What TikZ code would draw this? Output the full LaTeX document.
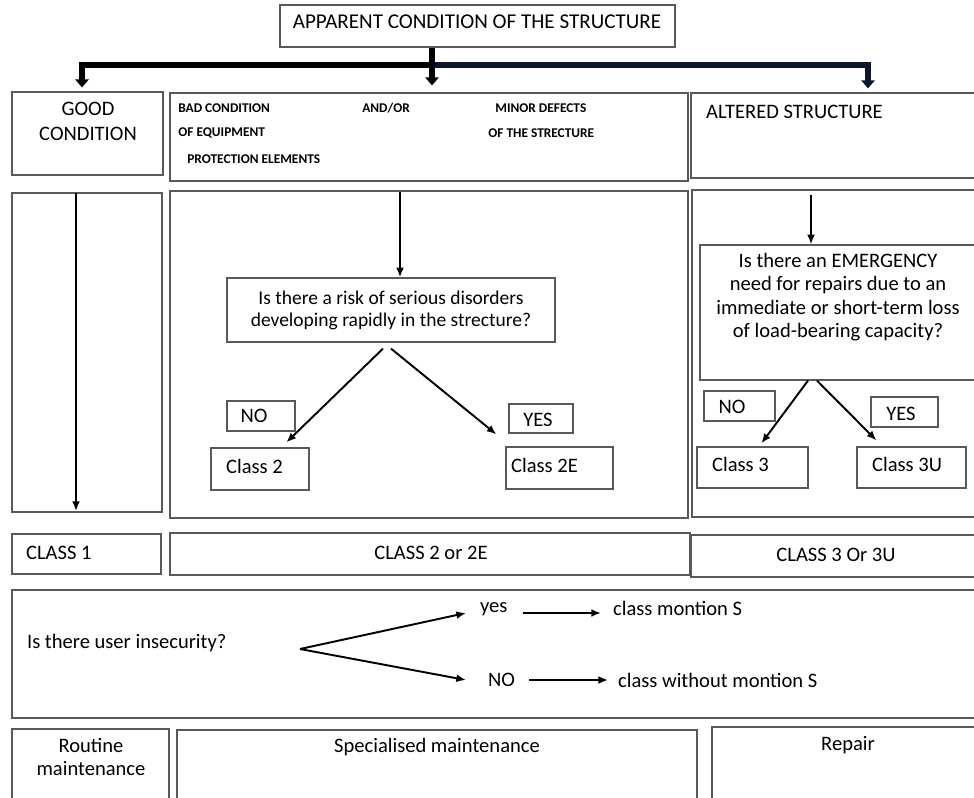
\documentclass[tikz,border=0pt]{standalone}
\usepackage{fontspec}
\setmainfont{Carlito}
\usetikzlibrary{calc,fit,arrows.meta}

\definecolor{navy}{RGB}{12,22,48}
\tikzset{
  box/.style={draw=black!65, line width=0.7pt, inner sep=0pt},
  txt/.style={inner sep=1pt, font=\fontsize{11.7}{14}\selectfont},
  tiny/.style={inner sep=0pt, anchor=west, font=\bfseries\fontsize{7.6}{9}\selectfont},
  arr/.style={-{Latex[length=5.5pt,width=4.5pt]}, line width=1.1pt},
  fat/.style={line width=3.6pt, -{Triangle[width=7.5pt,length=4.5pt]}},
}

\begin{document}
\begin{tikzpicture}[x=0.02cm,y=-0.02cm]
    \clip (0,0) rectangle (974,798);
    \fill[white] (0,0) rectangle (974,798);

    % top of the chart
    \node[box, fit={(280,5)(675,47)}] (top) {};
    \node[txt, font=\fontsize{12}{14}\selectfont] (toptxt) at (477,22) {APPARENT CONDITION OF THE STRUCTURE};

    \node[box, fit={(12,92)(163,175)}] (good) {};
    \node[txt, align=center, font=\fontsize{11.7}{14.2}\selectfont] (goodtxt) at (88,121) {GOOD\\CONDITION};

    \node[box, fit={(170,93)(688,181)}] (bad) {};
    \node[tiny] (bad1) at (178,108) {BAD CONDITION};
    \node[tiny] (bad2) at (362,108) {AND/OR};
    \node[tiny] (bad3) at (495,108) {MINOR DEFECTS};
    \node[tiny] (bad4) at (178,133) {OF EQUIPMENT};
    \node[tiny] (bad5) at (488,133) {OF THE STRECTURE};
    \node[tiny] (bad6) at (187,159) {PROTECTION ELEMENTS};

    \node[box, fit={(691,93)(990,178)}] (alt) {};
    \node[txt, anchor=west] (alttxt) at (704,112) {ALTERED STRUCTURE};

    % fat arrows
    \coordinate (hub) at (432,65);
    \coordinate (lft) at (82,65);
    \coordinate (rgt) at (868,65);
    \draw[fat, navy] (hub) -- (rgt) -- ($(alt.north -| rgt)+(0,-4)$);
    \draw[fat] (hub) -- (lft) -- ($(good.north -| lft)+(0,-4)$);
    \draw[fat] (top.south -| hub) -- ($(bad.north -| hub)+(0,-7)$);

    % columns
    \node[box, fit={(12,193)(162,512)}] (col1) {};
    \node[box, fit={(170,191)(688,518)}] (col2) {};
    \node[box, fit={(692,190)(990,517)}] (col3) {};

    \coordinate (c1a) at (76,193);
    \coordinate (c1b) at (76,511);
    \draw[arr] (c1a) -- (c1b);

    % middle column
    \node[box, fit={(227,278)(555,342)}] (q2) {};
    \node[txt, align=center, font=\fontsize{11.1}{12.6}\selectfont] (q2txt) at (q2.center)
        {Is there a risk of serious disorders\\developing rapidly in the strecture?};
    \coordinate (c2a) at (400,192);
    \draw[arr] (c2a) -- (q2.north -| c2a);

    \node[box, fit={(227,401)(295,431)}] (no2) {};
    \node[txt] (no2txt) at (254,416) {NO};
    \node[box, fit={(509,404)(573,433)}] (yes2) {};
    \node[txt] (yes2txt) at (538,420) {YES};
    \node[box, fit={(211,448)(309,490)}] (cl2) {};
    \node[txt, anchor=west] (cl2txt) at (224,466) {Class 2};
    \node[box, fit={(506,447)(613,489)}] (cl2e) {};
    \node[txt, anchor=west] (cl2etxt) at (509,465) {Class 2E};

    \draw[arr] ($(q2.south)+(-8,6)$) -- ($(cl2.north west)+(76,-5)$);
    \draw[arr] ($(q2.south)+(0,6)$) -- ($(cl2e.north west)+(-9,-12)$);

    % right column
    \node[box, fit={(700,245)(990,380)}] (q3) {};
    \node[txt, align=center, font=\fontsize{11.7}{13.4}\selectfont] (q3txt) at (838,297)
        {Is there an EMERGENCY\\need for repairs due to an\\immediate or short-term loss\\of load-bearing capacity?};
    \coordinate (c3a) at (811,195);
    \draw[arr] (c3a) -- (q3.north -| c3a);

    \node[box, fit={(704,391)(775,421)}] (no3) {};
    \node[txt] (no3txt) at (732,407) {NO};
    \node[box, fit={(871,397)(938,427)}] (yes3) {};
    \node[txt] (yes3txt) at (901,414) {YES};
    \node[box, fit={(697,447)(808,488)}] (cl3) {};
    \node[txt, anchor=west] (cl3txt) at (710,464) {Class 3};
    \node[box, fit={(857,447)(966,488)}] (cl3u) {};
    \node[txt, anchor=west] (cl3utxt) at (870,464) {Class 3U};

    \draw[arr] (q3.south -| 808,0) -- ($(cl3.north west)+(65,-3)$);
    \draw[arr] (q3.south -| 817,0) -- ($(cl3u.north west)+(20,-6)$);

    % classes
    \node[box, fit={(12,534)(161,574)}] (k1) {};
    \node[txt, anchor=west] (k1txt) at (24,553) {CLASS 1};
    \node[box, fit={(170,533)(690,575)}] (k2) {};
    \node[txt] (k2txt) at (431,553) {CLASS 2 or 2E};
    \node[box, fit={(691,535)(990,577)}] (k3) {};
    \node[txt] (k3txt) at (836,555) {CLASS 3 Or 3U};

    % user insecurity
    \node[box, fit={(12,590)(990,718)}] (sec) {};
    \node[txt, anchor=west] (sectxt) at (25,643) {Is there user insecurity?};
    \coordinate (fork) at (300,649);
    \node[txt, anchor=west] (yes) at (478,609) {yes};
    \node[txt, anchor=west] (ms) at (611,608) {class montion S};
    \node[txt, anchor=west] (no) at (486,680) {NO};
    \node[txt, anchor=west] (wms) at (616,680) {class without montion S};
    \draw[arr] (fork) -- ($(yes.west)+(-12,4)$);
    \draw[arr] (fork) -- ($(no.west)+(-20,0)$);
    \draw[arr] ($(yes.east)+(13,4)$) -- ($(ms.west)+(-10,5)$);
    \draw[arr] ($(no.east)+(12,0)$) -- ($(wms.west)+(-8,0)$);

    % maintenance
    \node[box, fit={(12,729)(169,820)}] (rout) {};
    \node[txt, align=center, font=\fontsize{11.7}{13}\selectfont] (routtxt) at (91,757) {Routine\\maintenance};
    \node[box, fit={(177,730)(697,820)}] (spec) {};
    \node[txt] (spectxt) at (437,747) {Specialised maintenance};
    \node[box, fit={(712,727)(990,820)}] (rep) {};
    \node[txt] (reptxt) at (848,745) {Repair};
\end{tikzpicture}
\end{document}
